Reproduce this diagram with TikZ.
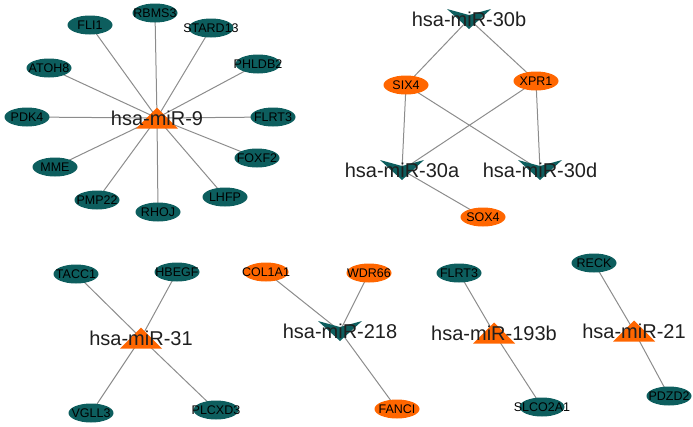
\documentclass[tikz,border=0pt]{standalone}
\usepackage{fontspec}
\setmainfont{Liberation Sans}
\usetikzlibrary{shapes.geometric,backgrounds}
\definecolor{tealc}{HTML}{0D5E5E}
\definecolor{orangec}{HTML}{FF6600}
\definecolor{edgec}{HTML}{8C8C8C}
\tikzset{
  genetext/.style={font=\fontsize{12.5}{12.5}\selectfont, text=black, inner sep=0pt},
  mirtext/.style={font=\fontsize{20}{20}\selectfont, text=black!88, inner sep=0pt},
  gene/.style={ellipse, fill=tealc, minimum width=45pt, minimum height=19pt, inner sep=0pt, label={[genetext]center:#1}},
  ogene/.style={gene={#1}, fill=orangec},
  tri/.style={rectangle, minimum width=42pt, minimum height=21pt, inner sep=0pt,
    path picture={\fill[orangec] (path picture bounding box.south west) -- (path picture bounding box.south east) -- (path picture bounding box.north) -- cycle;},
    label={[mirtext]center:#1}},
  vee/.style={rectangle, minimum width=44pt, minimum height=20pt, inner sep=0pt,
    path picture={\fill[tealc] (path picture bounding box.north west) -- ([yshift=-6pt]path picture bounding box.north) -- (path picture bounding box.north east) -- (path picture bounding box.south) -- cycle;},
    label={[mirtext]center:#1}},
  link/.style={draw=edgec, line width=1pt},
}
\begin{document}
\begin{tikzpicture}[x=1pt,y=-1pt]
\useasboundingbox (0,0) rectangle (693,426);
% cluster miR-9
\node[tri={hsa-miR-9}] (m9) at (157,118) {};
\node[gene=RBMS3] (rbms3) at (155,13) {};
\node[gene=FLI1] (fli1) at (90,25) {};
\node[gene=STARD13] (stard13) at (211,28) {};
\node[gene=ATOH8] (atoh8) at (49,68) {};
\node[gene=PHLDB2] (phldb2) at (258,64) {};
\node[gene=PDK4] (pdk4) at (27,117) {};
\node[gene=FLRT3] (flrt3a) at (273,117) {};
\node[gene=MME] (mme) at (55,167) {};
\node[gene=FOXF2] (foxf2) at (257,158) {};
\node[gene=PMP22] (pmp22) at (97,200) {};
\node[gene=LHFP] (lhfp) at (225,197) {};
\node[gene=RHOJ] (rhoj) at (158,212) {};
% cluster miR-30
\node[vee={hsa-miR-30b}] (m30b) at (469,19) {};
\node[vee={hsa-miR-30a}] (m30a) at (402,170) {};
\node[vee={hsa-miR-30d}] (m30d) at (540,170) {};
\node[ogene=SIX4] (six4) at (406,85) {};
\node[ogene=XPR1] (xpr1) at (536,81) {};
\node[ogene=SOX4] (sox4) at (483,217) {};
% miR-31
\node[tri={hsa-miR-31}] (m31) at (141,338) {};
\node[gene=TACC1] (tacc1) at (76,274) {};
\node[gene=HBEGF] (hbegf) at (177,272) {};
\node[gene=VGLL3] (vgll3) at (91,413) {};
\node[gene=PLCXD3] (plcxd3) at (216,410) {};
% miR-218
\node[vee={hsa-miR-218}] (m218) at (340,331) {};
\node[ogene=COL1A1] (col1a1) at (266,272) {};
\node[ogene=WDR66] (wdr66) at (369,273) {};
\node[ogene=FANCI] (fanci) at (397,409) {};
% miR-193b
\node[tri={hsa-miR-193b}] (m193b) at (494,333) {};
\node[gene=FLRT3] (flrt3b) at (459,273) {};
\node[gene=SLCO2A1] (slco2a1) at (542,407) {};
% miR-21
\node[tri={hsa-miR-21}] (m21) at (634,331) {};
\node[gene=RECK] (reck) at (594,263) {};
\node[gene=PDZD2] (pdzd2) at (669,396) {};
\begin{scope}[on background layer]
\foreach \g in {rbms3,fli1,stard13,atoh8,phldb2,pdk4,flrt3a,mme,foxf2,pmp22,lhfp,rhoj}
  \draw[link] (m9.center) -- (\g.center);
\draw[link] (m30b.center) -- (six4.center);
\draw[link] (m30b.center) -- (xpr1.center);
\draw[link] (six4.center) -- (m30a.center);
\draw[link] (six4.center) -- (m30d.center);
\draw[link] (xpr1.center) -- (m30a.center);
\draw[link] (xpr1.center) -- (m30d.center);
\draw[link] (m30a.center) -- (sox4.center);
\foreach \g in {tacc1,hbegf,vgll3,plcxd3}
  \draw[link] (m31.center) -- (\g.center);
\foreach \g in {col1a1,wdr66,fanci}
  \draw[link] (m218.center) -- (\g.center);
\draw[link] (m193b.center) -- (flrt3b.center);
\draw[link] (m193b.center) -- (slco2a1.center);
\draw[link] (m21.center) -- (reck.center);
\draw[link] (m21.center) -- (pdzd2.center);
\end{scope}
\end{tikzpicture}
\end{document}
